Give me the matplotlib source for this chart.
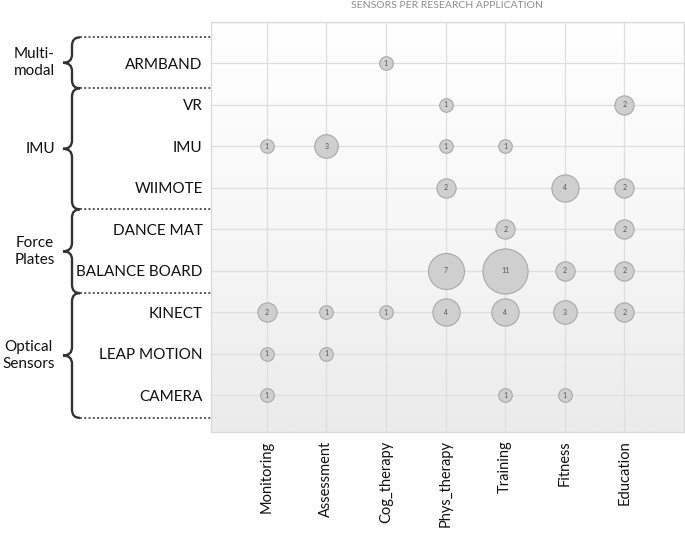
import numpy as np
import matplotlib
matplotlib.use("Agg")
import matplotlib.pyplot as plt
from matplotlib.path import Path
from matplotlib.patches import PathPatch
import matplotlib.transforms as mtransforms
from matplotlib.colors import LinearSegmentedColormap

plt.rcParams['font.family'] = ['Lato', 'DejaVu Sans']

applications = ["Monitoring", "Assessment", "Cog_therapy", "Phys_therapy",
                "Training", "Fitness", "Education"]
sensors = ["CAMERA", "LEAP MOTION", "KINECT", "BALANCE BOARD", "DANCE MAT",
           "WIIMOTE", "IMU", "VR", "ARMBAND"]

# counts per sensor (rows) and application (columns); 0 = no bubble
counts = {
    "CAMERA":        [1, 0, 0, 0, 1, 1, 0],
    "LEAP MOTION":   [1, 1, 0, 0, 0, 0, 0],
    "KINECT":        [2, 1, 1, 4, 4, 3, 2],
    "BALANCE BOARD": [0, 0, 0, 7, 11, 2, 2],
    "DANCE MAT":     [0, 0, 0, 0, 2, 0, 2],
    "WIIMOTE":       [0, 0, 0, 2, 0, 4, 2],
    "IMU":           [1, 3, 0, 1, 1, 0, 0],
    "VR":            [0, 0, 0, 1, 0, 0, 2],
    "ARMBAND":       [0, 0, 1, 0, 0, 0, 0],
}

groups = ["Optical\nSensors", "Force\nPlates", "IMU", "Multi-\nmodal"]
group_bounds = [(0.45, 3.46), (3.46, 5.48), (5.48, 8.40), (8.40, 9.63)]

title = "SENSORS PER RESEARCH APPLICATION"

fig = plt.figure(figsize=(6.85, 5.33), dpi=100)
ax = fig.add_axes([211/685, 1-432/533, (684-211)/685, (432-22)/533])

xlim = (0.066, 8.0)
ylim = (0.11, 10.0)
ax.set_xlim(*xlim)
ax.set_ylim(*ylim)

# background gradient
grad = np.linspace(0, 1, 256).reshape(-1, 1)
cmap = LinearSegmentedColormap.from_list("bg", ["#ebebeb", "#f7f7f7", "#ffffff"])
ax.imshow(grad, extent=[xlim[0], xlim[1], ylim[0], ylim[1]], origin="lower",
          aspect="auto", cmap=cmap, zorder=0)

ax.grid(True, color="#dedede", lw=0.9, zorder=1)
ax.set_xticks(np.arange(1, 9))
ax.set_xticklabels(applications + [""], rotation=90, fontsize=10.5, color="#111111")
ax.set_yticks(np.arange(1, 11))
ax.set_yticklabels(sensors + [""], fontsize=11, color="#111111")
ax.tick_params(length=0)
ax.tick_params(axis='x', pad=6)
ax.tick_params(axis='y', pad=6)
for s in ax.spines.values():
    s.set_color("#d9d9d9")
    s.set_linewidth(0.9)

scale = (13.6 * 0.72) ** 2
for yi, sname in enumerate(sensors, start=1):
    for xi, v in enumerate(counts[sname], start=1):
        if v > 0:
            ax.scatter([xi], [yi], s=scale * v, color="#cfcfcf",
                       edgecolor="#a8a8a8", linewidth=0.8, zorder=3)
            ax.text(xi, yi, str(v), ha="center", va="center", fontsize=5,
                    color="#555555", zorder=4)

fig.text(447/685, 1-6/533, title, ha="center", va="center", fontsize=7.5,
         color="#8c8c8c")

# group brackets and dotted separators
trans = mtransforms.blended_transform_factory(fig.transFigure, ax.transData)
ax_left = 211/685
x_end = 80/685
x_sp = 72/685
x_tip = 63/685
r = 0.2
bounds_set = sorted(set([b for pair in group_bounds for b in pair]))
for b in bounds_set:
    ax.plot([x_end, ax_left], [b, b], transform=trans, clip_on=False,
            color="#555555", lw=1.4, linestyle=(0, (1, 1.2)))
for (y0, y1), label in zip(group_bounds, groups):
    ym = (y0 + y1) / 2
    verts = [
        (x_end, y1),
        (x_sp, y1), (x_sp, y1 - r),
        (x_sp, ym + r),
        (x_sp, ym), (x_tip, ym),
        (x_sp, ym), (x_sp, ym - r),
        (x_sp, y0 + r),
        (x_sp, y0), (x_end, y0),
    ]
    codes = [Path.MOVETO, Path.CURVE3, Path.CURVE3, Path.LINETO,
             Path.CURVE3, Path.CURVE3, Path.CURVE3, Path.CURVE3,
             Path.LINETO, Path.CURVE3, Path.CURVE3]
    patch = PathPatch(Path(verts, codes), transform=trans, fill=False,
                      edgecolor="#333333", lw=1.7, clip_on=False)
    fig.add_artist(patch)
    ax.text(55/685, ym, label, transform=trans, ha="right", va="center",
            fontsize=11, color="#111111", linespacing=1.25, multialignment="center")

fig.savefig("out.png", dpi=100)
